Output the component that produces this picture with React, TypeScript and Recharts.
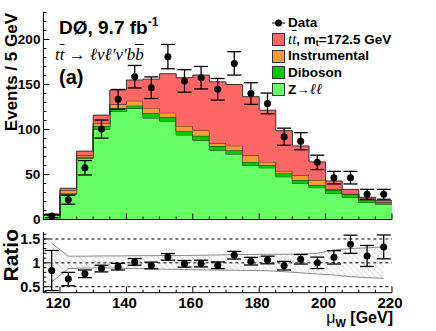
import React from "react"
import { ComposedChart, Area, Scatter, ErrorBar, XAxis, YAxis, ReferenceLine, Legend } from "recharts"

// mu_W bins, 5 GeV wide
const binEdges = [115, 120, 125, 130, 135, 140, 145, 150, 155, 160, 165, 170, 175, 180, 185, 190, 195, 200, 205, 210, 215, 220]
const binCenters = [117.5, 122.5, 127.5, 132.5, 137.5, 142.5, 147.5, 152.5, 157.5, 162.5, 167.5, 172.5, 177.5, 182.5, 187.5, 192.5, 197.5, 202.5, 207.5, 212.5, 217.5]

// stacked predictions (events / 5 GeV)
const zll = [4.5, 28, 68, 100, 120, 123.5, 112.8, 109.4, 94, 88, 77, 72.8, 60, 57.5, 47.5, 40, 35.4, 29, 24.7, 19, 17]
const diboson = [0.3, 1, 1.8, 4, 4, 3, 5.2, 4.6, 4, 5, 4.6, 4.2, 4, 3, 3.5, 3.9, 2.9, 3.8, 3.3, 2.7, 2]
const instrumental = [0.2, 3.5, 1.8, 3, 4, 5.5, 6, 4.7, 6, 6, 3.4, 5, 7, 3.5, 3, 5.5, 5.6, 1, 0.5, 0.5, 0.3]
const ttbar = [0.1, 2.2, 4.4, 9, 16, 23, 32, 43.3, 53.6, 61.5, 68, 68, 65.5, 57.5, 44.7, 32.3, 20.1, 9, 5, 2.5, 1.7]

// data
const dataCounts = [4, 22, 57.5, 100.5, 133.5, 158.7, 146.5, 181, 154, 157.6, 144.7, 173.5, 140, 129, 92, 87, 63.5, 46.5, 46.5, 28, 28]
const dataErrors = [2, 5, 8, 10, 11, 12.5, 12, 13.5, 12.5, 12.5, 12, 13, 12, 11.5, 9.5, 9.5, 8, 7, 7, 5.5, 5.5]

// ratio panel
const ratioValues = [0.84, 0.66, 0.77, 0.88, 0.92, 1.02, 0.945, 1.125, 0.98, 0.985, 0.95, 1.16, 1.035, 1.06, 0.94, 1.075, 1.0, 1.115, 1.39, 1.145, 1.335]
const ratioErrors = [0.42, 0.14, 0.08, 0.07, 0.07, 0.07, 0.07, 0.07, 0.07, 0.07, 0.07, 0.08, 0.08, 0.08, 0.09, 0.1, 0.12, 0.14, 0.19, 0.22, 0.25]
const bandLow = [0.6, 0.88, 0.89, 0.895, 0.89, 0.88, 0.875, 0.865, 0.86, 0.85, 0.85, 0.845, 0.84, 0.835, 0.815, 0.79, 0.765, 0.745, 0.71, 0.69, 0.675]
const bandHigh = [1.41, 1.14, 1.14, 1.145, 1.145, 1.15, 1.15, 1.155, 1.155, 1.16, 1.165, 1.175, 1.175, 1.18, 1.18, 1.185, 1.2, 1.27, 1.3, 1.315, 1.335]

// ticks
const xTickLabels = [120, 140, 160, 180, 200, 220]
const mainYLabels = [0, 50, 100, 150, 200]
const mainYMinor = [10, 20, 30, 40, 60, 70, 80, 90, 110, 120, 130, 140, 160, 170, 180, 190, 210, 220, 230]
const ratioYLabels = [0.5, 1, 1.5]
const ratioYMinor = [0.4, 0.6, 0.7, 0.8, 0.9, 1.1, 1.2, 1.3, 1.4, 1.6]

const colors = { tt: "#ff6666", instr: "#ff9933", diboson: "#00cc00", zll: "#66ff66" }
const sans = "'Liberation Sans', Arial, Helvetica, sans-serif"
const serif = "'Liberation Serif', 'Times New Roman', serif"

// last edge repeats the last bin so the steps reach 220
const histRows = binEdges.map((x, i) => {
  const j = Math.min(i, zll.length - 1)
  return { x, zll: zll[j], diboson: diboson[j], instrumental: instrumental[j], ttbar: ttbar[j] }
})
const dataPoints = binCenters.map((x, i) => ({ x, y: dataCounts[i], err: dataErrors[i] }))
const ratioRows = binCenters.map((x, i) => ({
  x,
  r: ratioValues[i],
  err: ratioErrors[i],
  band: [bandLow[i], bandHigh[i]],
}))

function XTick(props: any) {
  const { x, y, payload, showLabel } = props
  const major = xTickLabels.includes(payload.value)
  return (
    <g>
      <line x1={x} x2={x} y1={y} y2={y - (major ? 6 : 3)} stroke="#000" />
      {showLabel && major && (
        <text x={x - 2} y={y + 15} textAnchor="middle" fontFamily={sans} fontWeight="bold" fontSize={15} fill="#000">
          {payload.value}
        </text>
      )}
    </g>
  )
}

function YTick(props: any) {
  const { x, y, payload, labels, fontSize } = props
  const major = labels.includes(payload.value)
  return (
    <g>
      <line x1={x} x2={x + (major ? 6 : 3)} y1={y} y2={y} stroke="#000" />
      {major && (
        <text x={x - 3} y={y + fontSize * 0.36} textAnchor="end" fontFamily={sans} fontWeight="bold" fontSize={fontSize} fill="#000">
          {payload.value}
        </text>
      )}
    </g>
  )
}

const dot = (p: any) => <circle cx={p.cx} cy={p.cy} r={3.5} fill="#000" />

function LegendBox() {
  const row: React.CSSProperties = { display: "flex", alignItems: "center", height: 16.7, whiteSpace: "nowrap" }
  const box = (c: string): React.CSSProperties => ({
    width: 11,
    height: 11,
    background: c,
    border: "1px solid #333",
    marginRight: 3,
  })
  return (
    <div style={{ fontFamily: sans, fontWeight: "bold", fontSize: 13.5, color: "#000", lineHeight: 1 }}>
      <div style={row}>
        <svg width={13} height={10} style={{ marginRight: 3 }}>
          <line x1={0} x2={13} y1={5} y2={5} stroke="#000" />
          <circle cx={6.5} cy={5} r={3.5} fill="#000" />
        </svg>
        Data
      </div>
      <div style={row}>
        <span style={box(colors.tt)} />
        <span style={{ fontFamily: serif, fontStyle: "italic", fontWeight: "normal", fontSize: 15 }}>
          t<span style={{ textDecoration: "overline" }}>t</span>
        </span>
        , m<span style={{ fontSize: 9, position: "relative", top: 4 }}>t</span>=172.5 GeV
      </div>
      <div style={row}>
        <span style={box(colors.instr)} />
        Instrumental
      </div>
      <div style={row}>
        <span style={box(colors.diboson)} />
        Diboson
      </div>
      <div style={row}>
        <span style={box(colors.zll)} />
        Z<span style={{ fontWeight: "normal" }}>→ </span>
        <span style={{ fontFamily: serif, fontStyle: "italic", fontWeight: "normal", fontSize: 15 }}>ℓℓ</span>
      </div>
    </div>
  )
}

export default function App() {
  const xTicks = binEdges
  return (
    <div style={{ position: "absolute", left: 0, top: 0, width: 436, height: 331, background: "#fff" }}>
      <div style={{ position: "absolute", left: 0, top: 0 }}>
        <ComposedChart width={436} height={232} data={histRows} margin={{ top: 12, right: 44, left: 0, bottom: 8 }}>
          <XAxis
            dataKey="x"
            type="number"
            domain={[115, 220]}
            allowDataOverflow
            ticks={xTicks}
            interval={0}
            height={4.5}
            tickSize={0}
            tickMargin={0}
            tickLine={false}
            axisLine={{ stroke: "#000" }}
            tick={(p: any) => <XTick {...p} />}
          />
          <XAxis xAxisId="frame" orientation="top" type="number" domain={[0, 1]} height={0} tick={false} tickLine={false} axisLine={{ stroke: "#000" }} />
          <YAxis
            type="number"
            domain={[0, 230.6]}
            allowDataOverflow
            ticks={[...mainYLabels, ...mainYMinor].sort((a, b) => a - b)}
            interval={0}
            width={43.4}
            tickSize={0}
            tickMargin={0}
            tickLine={false}
            axisLine={{ stroke: "#000" }}
            tick={(p: any) => <YTick {...p} labels={mainYLabels} fontSize={13.5} />}
          />
          <YAxis yAxisId="frame" orientation="right" domain={[0, 1]} width={0} tick={false} tickLine={false} axisLine={{ stroke: "#000" }} />
          <Area type="stepAfter" dataKey="zll" stackId="s" fill={colors.zll} fillOpacity={1} stroke="#222" strokeWidth={1} isAnimationActive={false} dot={false} activeDot={false} />
          <Area type="stepAfter" dataKey="diboson" stackId="s" fill={colors.diboson} fillOpacity={1} stroke="#222" strokeWidth={1} isAnimationActive={false} dot={false} activeDot={false} />
          <Area type="stepAfter" dataKey="instrumental" stackId="s" fill={colors.instr} fillOpacity={1} stroke="#222" strokeWidth={1} isAnimationActive={false} dot={false} activeDot={false} />
          <Area type="stepAfter" dataKey="ttbar" stackId="s" fill={colors.tt} fillOpacity={1} stroke="#333" strokeWidth={1} isAnimationActive={false} dot={false} activeDot={false} />
          <Scatter data={dataPoints} dataKey="y" shape={dot} isAnimationActive={false}>
            <ErrorBar dataKey="err" direction="y" width={7} stroke="#000" strokeWidth={1.3} />
          </Scatter>
          <Legend
            layout="vertical"
            align="center"
            verticalAlign="middle"
            content={() => <LegendBox />}
            wrapperStyle={{ left: 272, top: 14.5, width: "auto", height: "auto" }}
          />
        </ComposedChart>
      </div>

      <div style={{ position: "absolute", left: 0, top: 224 }}>
        <ComposedChart width={436} height={107} data={ratioRows} margin={{ top: 8, right: 44, left: 0, bottom: 0 }}>
          <defs>
            <pattern id="hatch" width={4} height={4} patternUnits="userSpaceOnUse" patternTransform="rotate(-45)">
              <line x1={0} y1={0} x2={0} y2={4} stroke="#aaa" strokeWidth={0.8} />
            </pattern>
          </defs>
          <XAxis
            dataKey="x"
            type="number"
            domain={[115, 220]}
            allowDataOverflow
            ticks={xTicks}
            interval={0}
            height={38.3}
            tickSize={0}
            tickMargin={0}
            tickLine={false}
            axisLine={{ stroke: "#000" }}
            tick={(p: any) => <XTick {...p} showLabel />}
          />
          <XAxis xAxisId="frame" orientation="top" type="number" domain={[0, 1]} height={0} tick={false} tickLine={false} axisLine={{ stroke: "#000" }} />
          <YAxis
            type="number"
            domain={[0.374, 1.647]}
            allowDataOverflow
            ticks={[...ratioYLabels, ...ratioYMinor].sort((a, b) => a - b)}
            interval={0}
            width={43.4}
            tickSize={0}
            tickMargin={0}
            tickLine={false}
            axisLine={{ stroke: "#000" }}
            tick={(p: any) => <YTick {...p} labels={ratioYLabels} fontSize={14.5} />}
          />
          <YAxis yAxisId="frame" orientation="right" domain={[0, 1]} width={0} tick={false} tickLine={false} axisLine={{ stroke: "#000" }} />
          {ratioYLabels.map((v) => (
            <ReferenceLine key={v} y={v} stroke="#000" strokeDasharray="3 3" strokeWidth={1} />
          ))}
          <Area type="linear" dataKey="band" fill="url(#hatch)" fillOpacity={1} stroke="#888" strokeWidth={1} isAnimationActive={false} dot={false} activeDot={false} />
          <Scatter dataKey="r" shape={dot} isAnimationActive={false}>
            <ErrorBar dataKey="err" direction="y" width={7} stroke="#000" strokeWidth={1.3} />
          </Scatter>
        </ComposedChart>
      </div>

      <div
        style={{
          position: "absolute",
          left: 55,
          top: 46,
          fontFamily: serif,
          fontStyle: "italic",
          fontSize: 17,
          lineHeight: 1,
          color: "#000",
          whiteSpace: "nowrap",
        }}
      >
        t<span style={{ textDecoration: "overline" }}>t</span> <span style={{ fontStyle: "normal" }}>→</span> ℓνℓ′ν′b
        <span style={{ textDecoration: "overline" }}>b</span>
      </div>

      <svg width={436} height={331} style={{ position: "absolute", left: 0, top: 0, pointerEvents: "none" }}>
        <text x={59} y={34} fontFamily={sans} fontWeight="bold" fontSize={19} fill="#000">
          DØ, 9.7 fb<tspan fontSize={12} dy={-8}>-1</tspan>
        </text>
        <text x={59} y={84} fontFamily={sans} fontWeight="bold" fontSize={20} fill="#000">
          (a)
        </text>
        <text transform="translate(17,13) rotate(-90)" textAnchor="end" fontFamily={sans} fontWeight="bold" fontSize={17} fill="#000">
          Events / 5 GeV
        </text>
        <text transform="translate(18,229) rotate(-90)" textAnchor="end" fontFamily={sans} fontWeight="bold" fontSize={21} fill="#000">
          Ratio
        </text>
        <text x={393} y={323} textAnchor="end" fontFamily={sans} fill="#000">
          <tspan fontSize={16}>μ</tspan>
          <tspan fontSize={11} fontWeight="bold" dy={4}>W</tspan>
          <tspan fontSize={16} fontWeight="bold" dy={-4}> [GeV]</tspan>
        </text>
      </svg>
    </div>
  )
}
